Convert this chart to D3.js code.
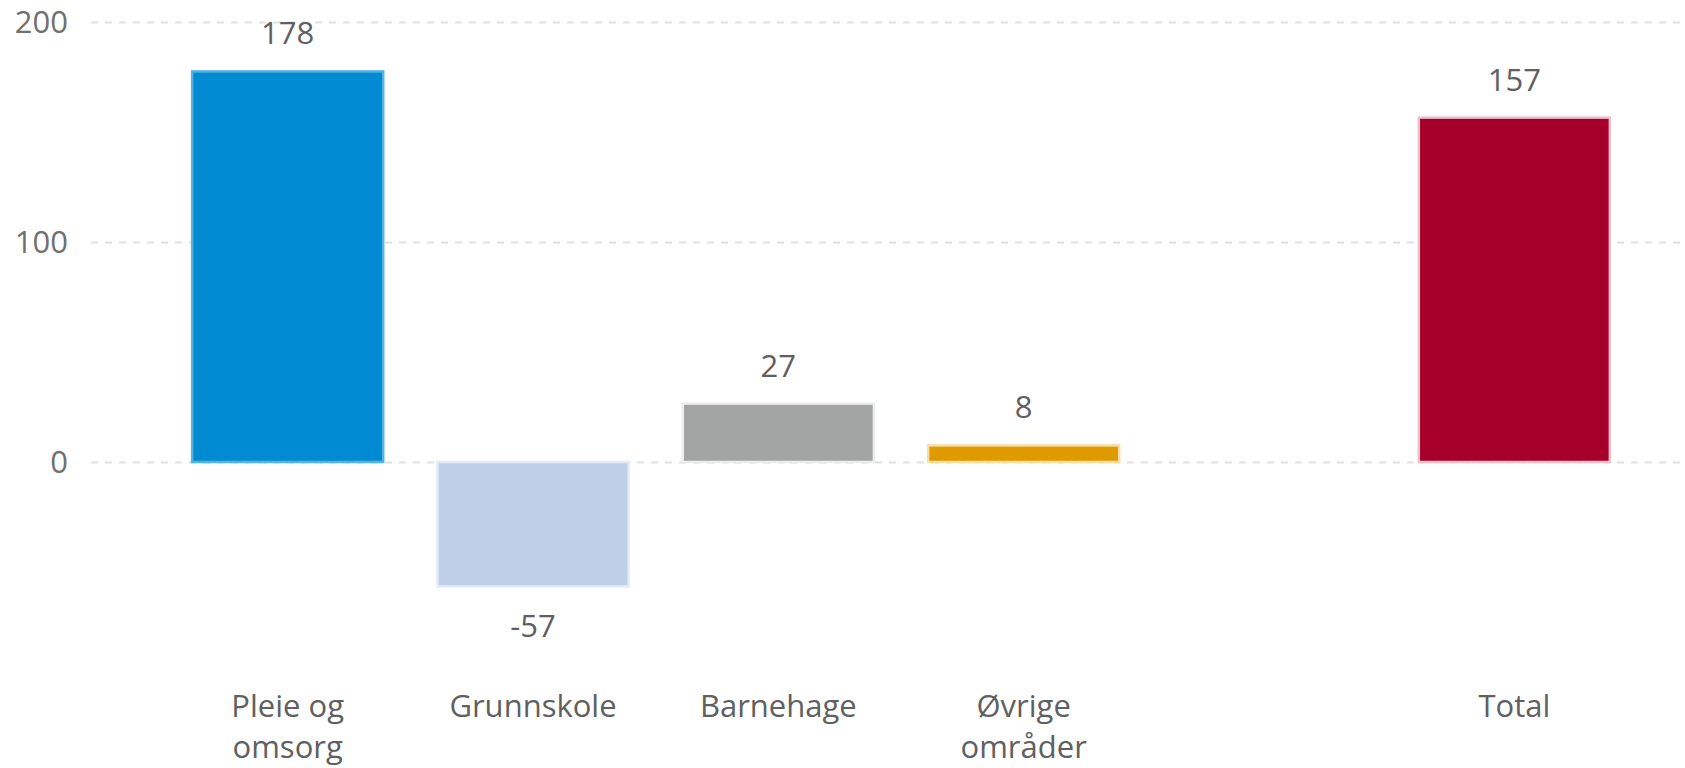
<!DOCTYPE html>
<html lang="no">
<head>
    <meta charset="UTF-8">
    <title>Endring per område</title>
    <style>
        body { margin: 0; background: #fff; }
        text { font-family: "Open Sans", "Noto Sans", sans-serif; }
    </style>
</head>
<body>
<div id="chart"></div>
<script src="https://cdn.jsdelivr.net/npm/d3@7"></script>
<script>
    // data
    const categories = ["Pleie og omsorg", "Grunnskole", "Barnehage", "Øvrige områder", "", "Total"];
    const values = [178, -57, 27, 8, null, 157];
    const fills = ["#008ad2", "#bdd0e8", "#a3a4a4", "#df9a00", null, "#a6002a"];
    const edges = ["#55b2e4", "#e2eaf5", "#ececec", "#f6dfa6", null, "#ecc3cd"];
    const yTicks = [0, 100, 200];

    const width = 1685,
        height = 768;

    const svg = d3.select("#chart")
        .append("svg")
        .attr("width", width)
        .attr("height", height);

    const x = d3.scaleBand()
        .domain(categories)
        .range([165, 1637])
        .paddingInner(0.213)
        .paddingOuter(0.1065);

    const y = d3.scaleLinear()
        .domain([0, 200])
        .range([462, 22]);

    // y axis with dashed grid
    const yAxis = d3.axisLeft(y)
        .tickValues(yTicks)
        .tickSize(-(width - 91))
        .tickPadding(23);

    const gy = svg.append("g")
        .attr("transform", "translate(91, 0)")
        .call(yAxis);
    gy.select(".domain").remove();
    gy.selectAll(".tick line")
        .attr("stroke", "#e0e0e0")
        .attr("stroke-width", 2)
        .attr("stroke-dasharray", "7,7");
    gy.selectAll(".tick text")
        .attr("fill", "#707070")
        .style("font-size", "31px")
        .attr("dy", "0.34em");

    const data = categories.map((c, i) => ({cat: c, value: values[i], fill: fills[i], edge: edges[i]}))
        .filter(d => d.value !== null);

    // bars
    svg.append("g")
        .selectAll("rect")
        .data(data)
        .join("rect")
        .attr("x", d => x(d.cat) + 1)
        .attr("width", x.bandwidth() - 2)
        .attr("y", d => Math.min(y(d.value), y(0)) + (d.value >= 0 ? 1 : 0))
        .attr("height", d => Math.abs(y(d.value) - y(0)) - 1)
        .attr("fill", d => d.fill)
        .attr("stroke", d => d.edge)
        .attr("stroke-width", 2.5);

    // data labels
    svg.append("g")
        .selectAll("text")
        .data(data)
        .join("text")
        .attr("x", d => x(d.cat) + x.bandwidth() / 2)
        .attr("y", d => d.value >= 0 ? y(d.value) - 26 : y(d.value) + 50)
        .attr("text-anchor", "middle")
        .attr("fill", "#606060")
        .style("font-size", "31px")
        .text(d => d.value);

    // category axis
    const gx = svg.append("g")
        .attr("transform", "translate(0, 462)")
        .call(d3.axisBottom(x).tickSize(0).tickPadding(0));
    gx.select(".domain").remove();
    gx.selectAll(".tick text")
        .attr("fill", "#606060")
        .style("font-size", "31px")
        .attr("y", 0)
        .attr("dy", null)
        .call(wrap, 135);

    function wrap(sel, maxW) {
        sel.each(function () {
            const t = d3.select(this);
            const words = t.text().split(/\s+/).filter(w => w);
            t.text(null);
            let lines = [], line = [];
            const probe = t.append("tspan");
            words.forEach(w => {
                line.push(w);
                probe.text(line.join(" "));
                if (probe.node().getComputedTextLength() > maxW && line.length > 1) {
                    line.pop();
                    lines.push(line.join(" "));
                    line = [w];
                }
            });
            if (line.length) lines.push(line.join(" "));
            probe.remove();
            lines.forEach((l, i) => {
                t.append("tspan")
                    .attr("x", 0)
                    .attr("y", 255 + i * 41)
                    .text(l);
            });
        });
    }
</script>
</body>
</html>
